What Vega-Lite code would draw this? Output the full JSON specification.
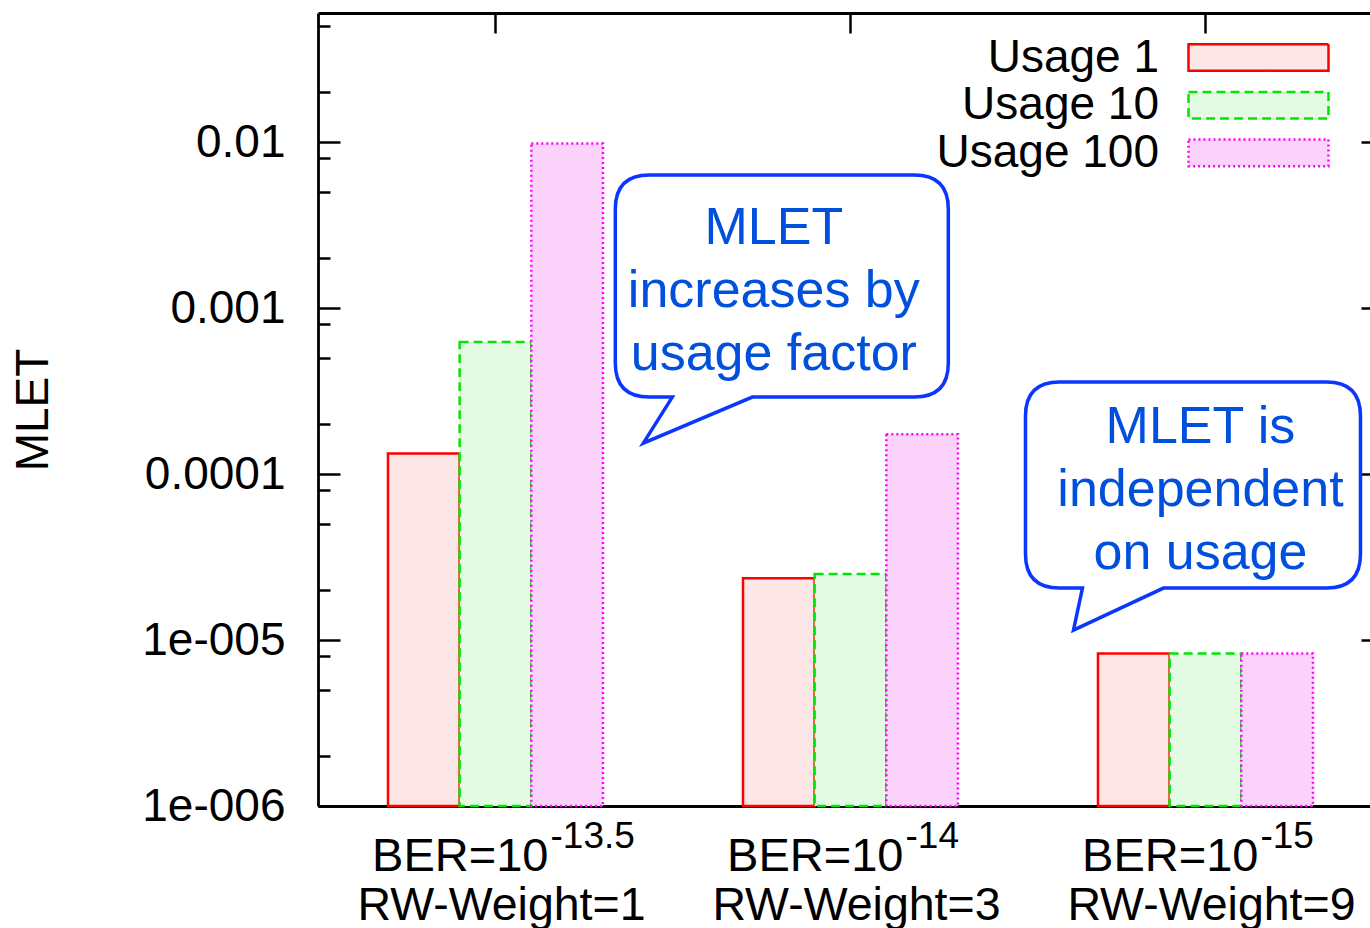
{
  "$schema": "https://vega.github.io/schema/vega-lite/v6.json",
  "width": 1052,
  "height": 793,
  "autosize": {"type": "none"},
  "padding": {"left": 318, "top": 13, "right": 0, "bottom": 122},
  "background": "white",
  "config": {
    "view": {"stroke": null},
    "font": "Liberation Sans",
    "axis": {
      "grid": false,
      "domainColor": "black",
      "domainWidth": 2.8,
      "tickColor": "black",
      "tickWidth": 2.5,
      "labelFont": "Liberation Sans",
      "titleFont": "Liberation Sans",
      "labelColor": "black",
      "titleColor": "black"
    }
  },
  "datasets": {
    "mlet": [
      {"rw": "RW-Weight=1", "ber": "-13.5", "usage": "Usage 1", "mlet": 0.000133},
      {"rw": "RW-Weight=1", "ber": "-13.5", "usage": "Usage 10", "mlet": 0.000624},
      {"rw": "RW-Weight=1", "ber": "-13.5", "usage": "Usage 100", "mlet": 0.0098},
      {"rw": "RW-Weight=3", "ber": "-14", "usage": "Usage 1", "mlet": 0.0000236},
      {"rw": "RW-Weight=3", "ber": "-14", "usage": "Usage 10", "mlet": 0.000025},
      {"rw": "RW-Weight=3", "ber": "-14", "usage": "Usage 100", "mlet": 0.000174},
      {"rw": "RW-Weight=9", "ber": "-15", "usage": "Usage 1", "mlet": 0.0000083},
      {"rw": "RW-Weight=9", "ber": "-15", "usage": "Usage 10", "mlet": 0.0000083},
      {"rw": "RW-Weight=9", "ber": "-15", "usage": "Usage 100", "mlet": 0.0000083}
    ],
    "notes": [
      {"note": "MLET\nincreases by\nusage factor", "rw": "RW-Weight=3", "usage": "Usage 1", "at": 0.001266},
      {"note": "MLET is\nindependent\non usage", "rw": "RW-Weight=9", "usage": "Usage 10", "at": 0.0000801}
    ]
  },
  "resolve": {"axis": {"x": "independent", "y": "independent"}},
  "layer": [
    {
      "data": {"name": "mlet"},
      "mark": {"type": "bar", "strokeWidth": 2.5, "fillOpacity": 1},
      "encoding": {
        "x": {
          "field": "rw", "type": "nominal",
          "sort": ["RW-Weight=1", "RW-Weight=3", "RW-Weight=9"],
          "scale": {"paddingInner": 0.3944, "paddingOuter": 0.1789, "align": 0.551},
          "axis": {"orient": "bottom", "title": null, "ticks": false, "labelAngle": 0, "labelFontSize": 46.5, "labelPadding": 76, "labelOffset": 6, "labelLimit": 600, "domain": true}
        },
        "xOffset": {
          "field": "usage", "type": "nominal",
          "sort": ["Usage 1", "Usage 10", "Usage 100"],
          "scale": {"paddingInner": 0, "paddingOuter": 0}
        },
        "y": {
          "field": "mlet", "type": "quantitative",
          "scale": {"type": "log", "domain": [0.000001, 0.06], "nice": false},
          "axis": {
            "orient": "left", "title": "MLET", "values": [0.000001, 0.00001, 0.0001, 0.001, 0.01],
            "tickSize": -22, "labelFontSize": 46, "labelPadding": 55, "labelLimit": 400,
            "labelExpr": "datum.value < 5e-6 ? '1e-006' : datum.value < 5e-5 ? '1e-005' : datum.value < 5e-4 ? '0.0001' : datum.value < 5e-3 ? '0.001' : '0.01'",
            "titleFontSize": 46, "titleFontWeight": "normal", "titlePadding": 84
          }
        },
        "y2": {"datum": 0.000001},
        "fill": {
          "field": "usage", "type": "nominal",
          "scale": {"domain": ["Usage 1", "Usage 10", "Usage 100"], "range": ["#fde6e6", "#e3fbe3", "#fad2fa"]},
          "legend": {"title": null, "orient": "none", "legendX": 836, "legendY": 21.5, "symbolType": "M-3.5,-0.665H3.5V0.665H-3.5Z", "symbolSize": 1600, "symbolStrokeWidth": 2.5, "labelFontSize": 46, "labelFont": "Liberation Sans", "labelAlign": "right", "labelBaseline": "middle", "labelOffset": -122.5, "symbolOffset": 81.5, "labelLimit": 400, "rowPadding": 1.7, "labelColor": "black", "padding": 0}
        },
        "stroke": {
          "field": "usage", "type": "nominal",
          "scale": {"domain": ["Usage 1", "Usage 10", "Usage 100"], "range": ["#ff0000", "#00e600", "#ff00ff"]},
          "legend": {"title": null, "orient": "none", "legendX": 836, "legendY": 21.5, "symbolType": "M-3.5,-0.665H3.5V0.665H-3.5Z", "symbolSize": 1600, "symbolStrokeWidth": 2.5, "labelFontSize": 46, "labelFont": "Liberation Sans", "labelAlign": "right", "labelBaseline": "middle", "labelOffset": -122.5, "symbolOffset": 81.5, "labelLimit": 400, "rowPadding": 1.7, "labelColor": "black", "padding": 0}
        },
        "strokeDash": {
          "field": "usage", "type": "nominal",
          "scale": {"domain": ["Usage 1", "Usage 10", "Usage 100"], "range": [[1, 0], [9, 5], [2, 3]]},
          "legend": {"title": null, "orient": "none", "legendX": 836, "legendY": 21.5, "symbolType": "M-3.5,-0.665H3.5V0.665H-3.5Z", "symbolSize": 1600, "symbolStrokeWidth": 2.5, "labelFontSize": 46, "labelFont": "Liberation Sans", "labelAlign": "right", "labelBaseline": "middle", "labelOffset": -122.5, "symbolOffset": 81.5, "labelLimit": 400, "rowPadding": 1.7, "labelColor": "black", "padding": 0}
        }
      }
    },
    {
      "data": {"name": "notes"},
      "mark": {"type": "point", "filled": true, "fill": "white", "fillOpacity": 1, "stroke": "#0a36ff", "strokeWidth": 3.5, "strokeOpacity": 1, "opacity": 1, "size": 4},
      "encoding": {
        "x": {
          "field": "rw", "type": "nominal",
          "sort": ["RW-Weight=1", "RW-Weight=3", "RW-Weight=9"],
          "axis": {"orient": "top", "title": null, "labels": false, "tickSize": -20, "domain": true, "ticks": true}
        },
        "xOffset": {"field": "usage", "type": "nominal", "sort": ["Usage 1", "Usage 10", "Usage 100"]},
        "y": {
          "field": "at", "type": "quantitative",
          "axis": {"orient": "right", "offset": 13, "title": null, "labels": false, "values": [0.000001, 0.00001, 0.0001, 0.001, 0.01], "tickSize": -22, "domain": true}
        },
        "shape": {
          "field": "note", "type": "nominal",
          "scale": {
            "domain": ["MLET\nincreases by\nusage factor", "MLET is\nindependent\non usage"],
            "range": [
              "M-129.5,-116H135.5Q169.5,-116 169.5,-82V72Q169.5,106 135.5,106H-26.5L-135.5,152L-106.5,106H-129.5Q-163.5,106 -163.5,72V-82Q-163.5,-116 -129.5,-116Z",
              "M-146,-108H121Q155,-108 155,-74V64Q155,98 121,98H-42L-132,140L-123,98H-146Q-180,98 -180,64V-74Q-180,-108 -146,-108Z"
            ]
          },
          "legend": null
        }
      }
    },
    {
      "data": {"name": "notes"},
      "mark": {"type": "text", "font": "Liberation Sans", "fontSize": 52, "color": "#0050dd", "lineBreak": "\n", "lineHeight": 63, "align": "center", "baseline": "middle", "dx": -5, "dy": -63},
      "encoding": {
        "x": {"field": "rw", "type": "nominal", "sort": ["RW-Weight=1", "RW-Weight=3", "RW-Weight=9"], "axis": null},
        "xOffset": {"field": "usage", "type": "nominal", "sort": ["Usage 1", "Usage 10", "Usage 100"]},
        "y": {
          "field": "at", "type": "quantitative",
          "axis": {"orient": "left", "title": null, "labels": false, "domain": false, "tickSize": -12,
                   "values": [0.000002, 0.000005, 0.000008, 0.00002, 0.00005, 0.00008, 0.0002, 0.0005, 0.0008, 0.002, 0.005, 0.008, 0.02, 0.05]}
        },
        "text": {"field": "note", "type": "nominal"}
      }
    },
    {
      "data": {"name": "mlet"},
      "transform": [{"filter": "datum.usage === 'Usage 1'"}],
      "mark": {"type": "text", "font": "Liberation Sans", "fontSize": 47, "align": "right", "baseline": "alphabetic", "dx": 53, "dy": 65, "text": "BER=10", "color": "black"},
      "encoding": {
        "x": {"field": "rw", "type": "nominal", "sort": ["RW-Weight=1", "RW-Weight=3", "RW-Weight=9"], "axis": null},
        "y": {
          "datum": 0.000001, "type": "quantitative",
          "axis": {"orient": "right", "offset": 13, "title": null, "labels": false, "domain": false, "tickSize": -12,
                   "values": [0.000002, 0.000005, 0.000008, 0.00002, 0.00005, 0.00008, 0.0002, 0.0005, 0.0008, 0.002, 0.005, 0.008, 0.02, 0.05]}
        }
      }
    },
    {
      "data": {"name": "mlet"},
      "transform": [{"filter": "datum.usage === 'Usage 1'"}],
      "mark": {"type": "text", "font": "Liberation Sans", "fontSize": 37, "align": "left", "baseline": "alphabetic", "dx": 55, "dy": 42, "color": "black"},
      "encoding": {
        "x": {"field": "rw", "type": "nominal", "sort": ["RW-Weight=1", "RW-Weight=3", "RW-Weight=9"], "axis": null},
        "y": {"datum": 0.000001, "type": "quantitative", "axis": null},
        "text": {"field": "ber", "type": "nominal"}
      }
    }
  ]
}
